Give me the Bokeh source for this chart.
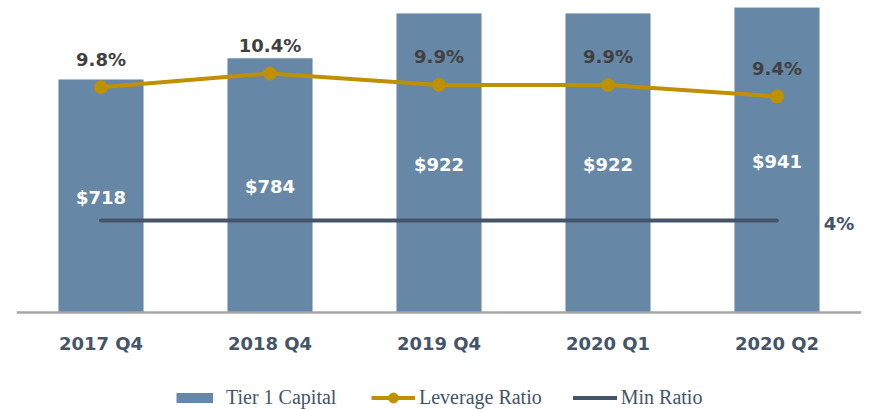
from bokeh.plotting import figure
from bokeh.models import Range1d, FactorRange, ColumnDataSource, Legend, LegendItem, Span
from bokeh.core.properties import value
from bokeh.embed import file_html
from bokeh.resources import INLINE

# ---- data ----
categories = ["2017 Q4", "2018 Q4", "2019 Q4", "2020 Q1", "2020 Q2"]
tier1_capital = [718, 784, 922, 922, 941]
leverage_ratio = [9.8, 10.4, 9.9, 9.9, 9.4]
min_ratio = [4, 4, 4, 4, 4]
capital_labels = ["$718", "$784", "$922", "$922", "$941"]
leverage_labels = ["9.8%", "10.4%", "9.9%", "9.9%", "9.4%"]
min_ratio_label = "4%"

# ---- styles / layout ----
BAR = "#6787A6"
GOLD = "#BF9000"
SLATE = "#44546A"
DARK = "#404040"
AXIS_GRAY = "#A6A6A6"
SANS = "DejaVu Sans"
SERIF = "Liberation Serif"

W, H = 869, 410
TOP, BASE = 7, 312          # frame top and baseline (px from top)
PCT_TOP = 13.27             # leverage scale top (%)
cap_top = max(tier1_capital)
cap_low = -cap_top * (H - BASE) / (BASE - TOP)
pct_low = -PCT_TOP * (H - BASE) / (BASE - TOP)

src = ColumnDataSource(dict(
    cat=categories,
    cap=tier1_capital,
    cap_mid=[v / 2 for v in tier1_capital],
    cap_label=capital_labels,
    lev=leverage_ratio,
    lev_label=leverage_labels,
    minr=min_ratio,
))

p = figure(
    width=W, height=H,
    x_range=FactorRange(*categories),
    y_range=Range1d(cap_low, cap_top),
    x_axis_location=None, y_axis_location=None,
    toolbar_location=None,
    output_backend="svg",
    min_border_left=16, min_border_right=8,
    min_border_top=TOP, min_border_bottom=0,
)
p.extra_y_ranges = {"pct": Range1d(pct_low, PCT_TOP)}

p.xgrid.visible = False
p.ygrid.visible = False
p.outline_line_color = None

bars = p.vbar(x="cat", top="cap", bottom=0, width=0.5, source=src,
              fill_color=BAR, line_color=BAR, line_width=0.5)

min_line = p.line(x="cat", y="minr", source=src, y_range_name="pct",
                  line_color=SLATE, line_width=4, line_cap="round")

lev_line = p.line(x="cat", y="lev", source=src, y_range_name="pct",
                  line_color=GOLD, line_width=4)
lev_pts = p.scatter(x="cat", y="lev", source=src, y_range_name="pct",
                    size=13, fill_color=GOLD, line_color=GOLD)

# baseline (category axis line)
p.add_layout(Span(location=0, dimension="width", line_color=AXIS_GRAY, line_width=2.5))

# category labels under the baseline
p.text(x="cat", y=0, text="cat", source=src,
       text_font=value(SANS), text_font_style="bold", text_font_size="18px",
       text_color=SLATE, text_align="center", text_baseline="middle",
       y_offset=31)

# value labels
p.text(x="cat", y="cap_mid", text="cap_label", source=src,
       text_font=value(SANS), text_font_style="bold", text_font_size="18px",
       text_color="white", text_align="center", text_baseline="middle",
       y_offset=1.5)

p.text(x="cat", y="lev", text="lev_label", source=src, y_range_name="pct",
       text_font=value(SANS), text_font_style="bold", text_font_size="18px",
       text_color=DARK, text_align="center", text_baseline="middle",
       y_offset=-28)

p.text(x=[categories[-1]], y=[min_ratio[-1]], text=[min_ratio_label], y_range_name="pct",
       text_font=value(SANS), text_font_style="bold", text_font_size="18px",
       text_color=SLATE, text_align="center", text_baseline="middle",
       x_offset=62, y_offset=3)

# legend key for the bars: a zero-length, butt-capped thick line (draws nothing
# in the plot, but renders as a flat rectangle in the legend)
bar_key = p.line(x=[categories[0]], y=[0], line_color=BAR, line_width=10, line_cap="butt")

common = dict(orientation="horizontal", padding=0, margin=0,
              border_line_color=None, background_fill_alpha=0,
              label_text_font=SERIF, label_text_font_size="20px",
              label_text_color=SLATE, glyph_height=25, label_height=25)

leg1 = Legend(items=[LegendItem(label="Tier 1 Capital", renderers=[bar_key])],
              location=(160, 0), glyph_width=37, label_standoff=13, **common)
leg2 = Legend(items=[LegendItem(label="Leverage Ratio", renderers=[lev_line, lev_pts]),
                     LegendItem(label="Min Ratio", renderers=[min_line])],
              location=(355, 0), glyph_width=44, label_standoff=4, spacing=31, **common)
p.add_layout(leg1)
p.add_layout(leg2)

open("out.html", "w").write(file_html(p, INLINE))
